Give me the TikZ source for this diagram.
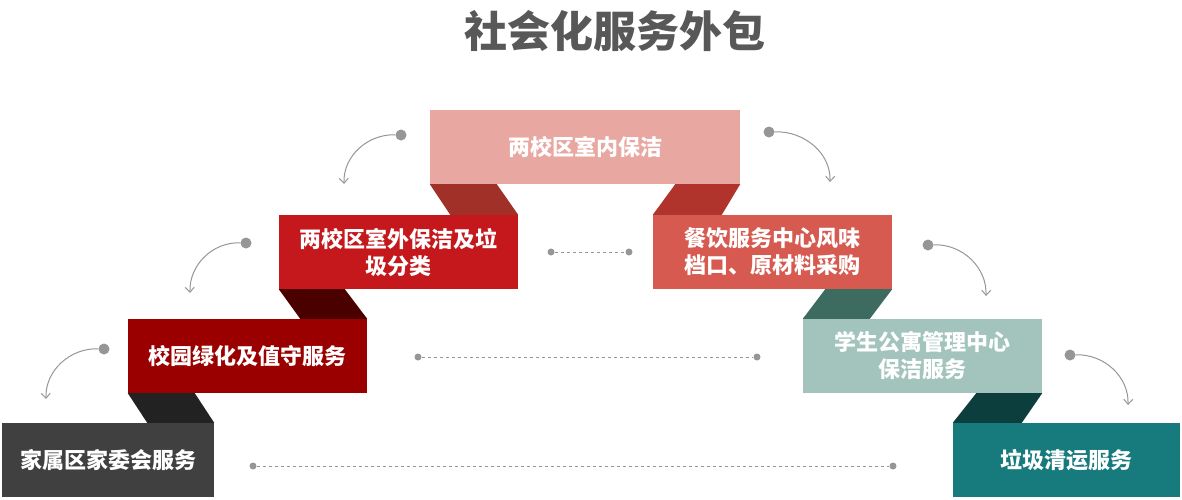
\documentclass[tikz,border=0pt]{standalone}
\usepackage{fontspec}
\setmainfont{Noto Sans CJK SC}
\usetikzlibrary{arrows.meta}
\definecolor{cTop}{RGB}{232,167,160}
\definecolor{cRibTL}{RGB}{160,48,40}
\definecolor{cRibTR}{RGB}{176,52,44}
\definecolor{cLtwo}{RGB}{196,24,28}
\definecolor{cRtwo}{RGB}{214,90,80}
\definecolor{cRibLtwo}{RGB}{75,0,0}
\definecolor{cLthree}{RGB}{155,0,0}
\definecolor{cRibLthree}{RGB}{34,34,34}
\definecolor{cLfour}{RGB}{64,64,64}
\definecolor{cRibRtwo}{RGB}{62,107,96}
\definecolor{cRthree}{RGB}{162,196,188}
\definecolor{cRibRthree}{RGB}{13,62,62}
\definecolor{cRfour}{RGB}{23,122,124}
\definecolor{cGrey}{RGB}{150,150,150}
\definecolor{cTitle}{RGB}{88,88,88}
\begin{document}
\begin{tikzpicture}[x=1pt,y=-1pt,
  box/.style={inner sep=0pt, minimum height=74pt, text=white, align=center,
    font=\fontsize{22}{27}\selectfont\bfseries},
  dot/.style={circle, fill=cGrey, inner sep=0pt, minimum size=11pt},
  sdot/.style={circle, fill=cGrey, inner sep=0pt, minimum size=7pt},
  dashline/.style={draw=cGrey, dashed, line width=0.8pt, dash pattern=on 3pt off 3pt},
  curvearrow/.style={draw=cGrey, line width=1pt, -{Straight Barb[length=5pt,width=9pt]}}]
\useasboundingbox (0,0) rectangle (1182,499);

\node[font=\fontsize{43}{45}\selectfont\bfseries, text=cTitle] (title) at (615,31) {社会化服务外包};

% boxes
\node[box, fill=cTop, minimum width=310pt] (top) at (585,147) {两校区室内保洁};
\node[box, fill=cLtwo, minimum width=239pt] (l2) at (398.5,252) {两校区室外保洁及垃\\圾分类};
\node[box, fill=cRtwo, minimum width=239pt] (r2) at (772.5,252) {餐饮服务中心风味\\档口、原材料采购};
\node[box, fill=cLthree, minimum width=239pt] (l3) at (247.5,356) {校园绿化及值守服务};
\node[box, fill=cRthree, minimum width=239pt] (r3) at (922.5,356) {学生公寓管理中心\\保洁服务};
\node[box, fill=cLfour, minimum width=212pt] (l4) at (108,460) {家属区家委会服务};
\node[box, fill=cRfour, minimum width=227pt] (r4) at (1066.5,460) {垃圾清运服务};

% ribbons
\fill[cRibTL] (top.south west) -- ++(67,0) -- (l2.north east) -- ++(-68,0) -- cycle;
\fill[cRibTR] (top.south east) -- ++(-65,0) -- (r2.north west) -- ++(69,0) -- cycle;
\fill[cRibLtwo] (l2.south west) -- ++(66,0) -- (l3.north east) -- ++(-67,0) -- cycle;
\fill[cRibLthree] (l3.south west) -- ++(67,0) -- (l4.north east) -- ++(-67,0) -- cycle;
\fill[cRibRtwo] (r2.south east) -- ++(-67,0) -- (r3.north west) -- ++(67,0) -- cycle;
\fill[cRibRthree] (r3.south east) -- ++(-66,0) -- (r4.north west) -- ++(69,0) -- cycle;

% dashed connectors
\node[sdot] (da1) at (551,252) {};
\node[sdot] (da2) at (629,252) {};
\draw[dashline] (da1) -- (da2);
\node[sdot] (db1) at (418,357) {};
\node[sdot] (db2) at (757,357) {};
\draw[dashline] (db1) -- (db2);
\node[sdot] (dc1) at (253,466) {};
\node[sdot] (dc2) at (893,466) {};
\draw[dashline] (dc1) -- (dc2);

% curved arrows
\node[dot] (a1) at (401,135) {};
\coordinate (t1) at (344,184);
\draw[curvearrow] (a1) to[out=178,in=92] (t1);
\node[dot] (a2) at (769,132) {};
\coordinate (t2) at (830,182);
\draw[curvearrow] (a2) to[out=2,in=88] (t2);
\node[dot] (a3) at (246,243) {};
\coordinate (t3) at (190,293);
\draw[curvearrow] (a3) to[out=178,in=92] (t3);
\node[dot] (a4) at (928,245) {};
\coordinate (t4) at (986,296);
\draw[curvearrow] (a4) to[out=2,in=88] (t4);
\node[dot] (a5) at (104,349) {};
\coordinate (t5) at (46,399);
\draw[curvearrow] (a5) to[out=178,in=92] (t5);
\node[dot] (a6) at (1070,355) {};
\coordinate (t6) at (1128,405);
\draw[curvearrow] (a6) to[out=2,in=88] (t6);
\end{tikzpicture}
\end{document}
